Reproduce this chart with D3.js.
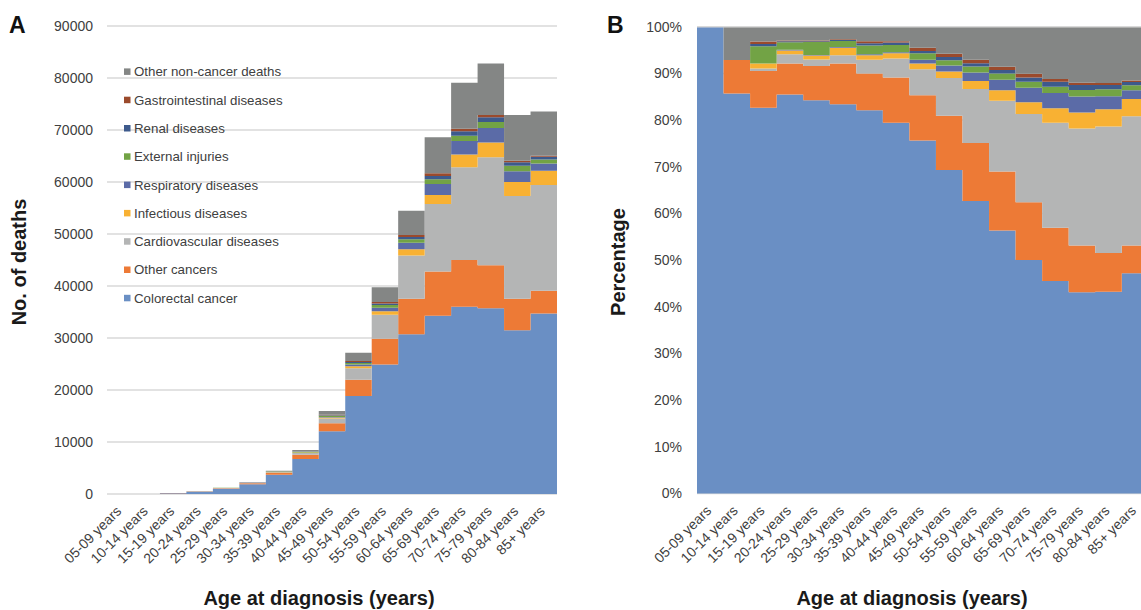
<!DOCTYPE html>
<html>
<head>
<meta charset="utf-8">
<script src="https://cdn.jsdelivr.net/npm/d3@7/dist/d3.min.js"></script>
<style>
  html, body { margin: 0; padding: 0; background: #ffffff; }
  svg { display: block; font-family: "Liberation Sans", Arial, Helvetica, sans-serif; }
</style>
</head>
<body>
<svg id="chart" width="1141" height="610"></svg>
<script>
// Age groups at diagnosis
const ageGroups = ["05-09 years", "10-14 years", "15-19 years", "20-24 years", "25-29 years",
  "30-34 years", "35-39 years", "40-44 years", "45-49 years", "50-54 years", "55-59 years",
  "60-64 years", "65-69 years", "70-74 years", "75-79 years", "80-84 years", "85+ years"];

// Number of deaths by cause, one value per age group
const colorectalCancer   = [4, 12, 157, 435, 1028, 1868, 3686, 6717, 12066, 18830, 24900, 30700, 34300, 36000, 35700, 31500, 34700];
const otherCancers       = [0, 1, 15, 34, 89, 195, 355, 821, 1548, 3150, 4940, 6870, 8510, 9020, 8280, 6050, 4390];
const cardiovascular     = [0, 0, 1, 10, 17, 40, 130, 347, 894, 2200, 4610, 8280, 12970, 17800, 20780, 19760, 20350];
const infectious         = [0, 0, 2, 4, 11, 36, 45, 93, 191, 380, 675, 1200, 1715, 2450, 2820, 2700, 2710];
const respiratory        = [0, 0, 0, 1, 1, 3, 9, 17, 128, 353, 715, 1250, 2130, 2610, 2820, 2040, 1390];
const externalInjuries   = [0, 0, 7, 8, 34, 29, 85, 135, 223, 300, 515, 710, 890, 1030, 1160, 1090, 800];
const renal              = [0, 0, 1, 1, 2, 5, 22, 42, 80, 190, 280, 420, 620, 870, 910, 660, 510];
const gastrointestinal   = [0, 0, 1, 1, 2, 4, 18, 25, 112, 190, 300, 380, 550, 470, 410, 290, 220];
const otherNonCancer     = [0, 1, 6, 15, 36, 60, 140, 263, 718, 1577, 2815, 4670, 6915, 8850, 9920, 8810, 8480];

// Causes from bottom of the stack to top
const causes = ["Colorectal cancer", "Other cancers", "Cardiovascular diseases", "Infectious diseases",
  "Respiratory diseases", "External injuries", "Renal diseases", "Gastrointestinal diseases",
  "Other non-cancer deaths"];
const causeValues = [colorectalCancer, otherCancers, cardiovascular, infectious, respiratory,
  externalInjuries, renal, gastrointestinal, otherNonCancer];
const causeColors = ["#6a8fc4", "#ed7a36", "#b4b5b5", "#f8b133", "#5b6ba7", "#72a345", "#3d5a8c", "#9b4a2c", "#848685"];

// Axis ticks
const countTicks = [0, 10000, 20000, 30000, 40000, 50000, 60000, 70000, 80000, 90000];
const percentTicks = [0, 0.1, 0.2, 0.3, 0.4, 0.5, 0.6, 0.7, 0.8, 0.9, 1.0];

// Row table for d3.stack
const rows = ageGroups.map((age, i) => {
  const r = { age };
  causes.forEach((c, k) => { r[c] = causeValues[k][i]; });
  return r;
});

const svg = d3.select("#chart");
const textColor = "#404040";
const gridColor = "#d9d9d9";

function drawPanel(opts) {
  const g = svg.append("g");
  const x = d3.scaleBand().domain(ageGroups).range([opts.x0, opts.x1]).paddingInner(0).paddingOuter(0);
  const y = d3.scaleLinear().domain(opts.domain).range([opts.yBottom, opts.yTop]);

  // horizontal gridlines
  g.append("g").selectAll("line").data(opts.ticks).join("line")
    .attr("x1", opts.x0).attr("x2", opts.x1)
    .attr("y1", d => y(d)).attr("y2", d => y(d))
    .attr("stroke", gridColor).attr("stroke-width", 1.5);

  const stack = d3.stack().keys(causes).offset(opts.offset);
  const series = stack(rows);

  // step shape: each age group is a flat block across its band
  const area = d3.area()
    .x(d => d.x)
    .y0(d => y(d.v0))
    .y1(d => y(d.v1));

  g.append("g").selectAll("path").data(series).join("path")
    .attr("fill", (s, k) => causeColors[k])
    .attr("d", s => {
      const pts = [];
      s.forEach((d, i) => {
        const xs = x(ageGroups[i]);
        pts.push({ x: xs, v0: d[0], v1: d[1] });
        pts.push({ x: xs + x.bandwidth(), v0: d[0], v1: d[1] });
      });
      return area(pts);
    });

  // y axis labels
  const yAxis = d3.axisLeft(y).tickValues(opts.ticks).tickFormat(opts.format).tickSize(0).tickPadding(0);
  const ya = g.append("g").attr("transform", `translate(${opts.yLabelX},0)`).call(yAxis);
  ya.select(".domain").remove();
  ya.selectAll("text").attr("fill", textColor).attr("font-size", 14)
    .attr("font-family", "'Liberation Sans', Arial, sans-serif");

  // x axis labels, rotated
  const xAxis = d3.axisBottom(x).tickSize(0).tickPadding(0);
  const xa = g.append("g").attr("transform", `translate(0,${opts.yBottom})`).call(xAxis);
  xa.select(".domain").remove();
  xa.selectAll(".tick text")
    .attr("fill", textColor).attr("font-size", 14)
    .attr("font-family", "'Liberation Sans', Arial, sans-serif")
    .attr("text-anchor", "end")
    .attr("dy", 0)
    .attr("transform", "translate(2,18) rotate(-45)");

  // axis titles
  g.append("text")
    .attr("transform", `translate(${opts.yTitleX},${opts.yTitleY}) rotate(-90)`)
    .attr("text-anchor", "middle").attr("font-size", 20).attr("font-weight", "bold")
    .attr("fill", "#1a1a1a").text(opts.yTitle);
  g.append("text")
    .attr("x", opts.xTitleX).attr("y", 605)
    .attr("text-anchor", "middle").attr("font-size", 20).attr("font-weight", "bold")
    .attr("fill", "#1a1a1a").text("Age at diagnosis (years)");

  // panel letter
  g.append("text").attr("x", opts.letterX).attr("y", 33)
    .attr("font-size", 23).attr("font-weight", "bold").attr("fill", "#111")
    .text(opts.letter);
  return { g, x, y };
}

const panelA = drawPanel({
  x0: 107, x1: 557, yTop: 26, yBottom: 494,
  domain: [0, 90000], ticks: countTicks, format: d3.format("d"),
  offset: d3.stackOffsetNone, yLabelX: 93,
  yTitle: "No. of deaths", yTitleX: 26, yTitleY: 262, xTitleX: 319,
  letter: "A", letterX: 9
});

const panelB = drawPanel({
  x0: 697, x1: 697 + 17 * 26.55, yTop: 26.7, yBottom: 493.5,
  domain: [0, 1], ticks: percentTicks, format: d3.format(".0%"),
  offset: d3.stackOffsetExpand, yLabelX: 682,
  yTitle: "Percentage", yTitleX: 625, yTitleY: 262, xTitleX: 912,
  letter: "B", letterX: 607
});

// top gridline of panel B sits over the filled area
panelB.g.append("line")
  .attr("x1", 697).attr("x2", 1141)
  .attr("y1", panelB.y(1)).attr("y2", panelB.y(1))
  .attr("stroke", gridColor).attr("stroke-width", 1.5);

// legend for panel A, listed top cause first
const legend = svg.append("g").attr("transform", "translate(124,0)");
const legendOrder = causes.map((c, k) => ({ c, color: causeColors[k] })).reverse();
const legendItems = legend.selectAll("g").data(legendOrder).join("g")
  .attr("transform", (d, i) => `translate(0,${71.7 + i * 28.3})`);
legendItems.append("rect").attr("x", 0).attr("y", -3.3).attr("width", 6.5).attr("height", 6.5)
  .attr("fill", d => d.color);
legendItems.append("text").attr("x", 10).attr("y", 0).attr("dy", "0.35em")
  .attr("font-size", 13.3).attr("fill", textColor).text(d => d.c);
</script>
</body>
</html>
